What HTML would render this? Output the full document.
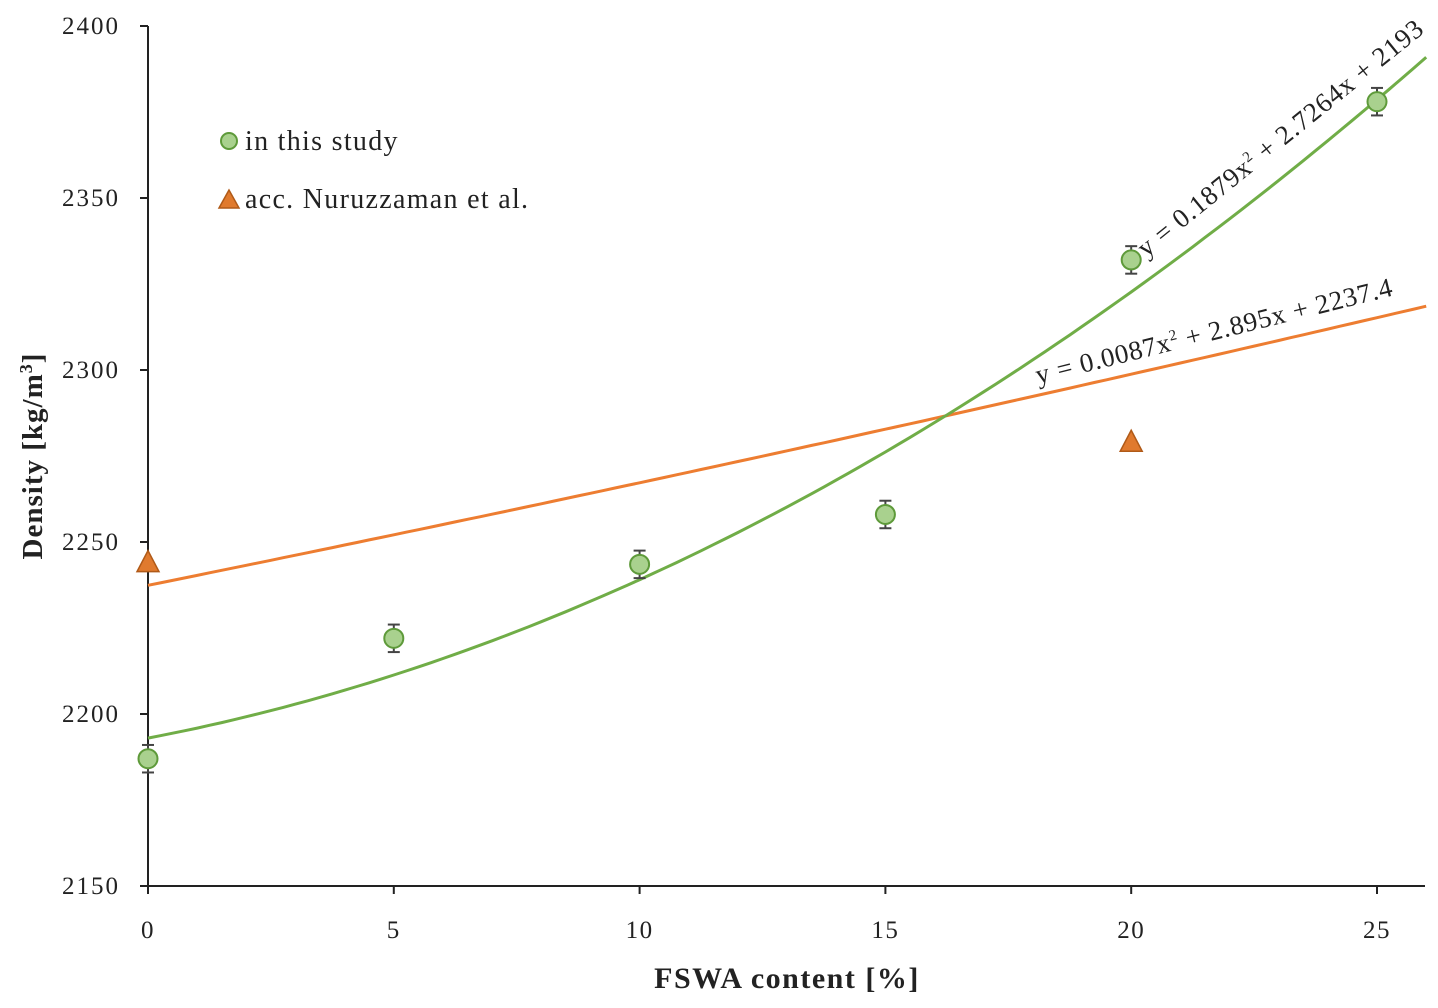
<!DOCTYPE html>
<html><head><meta charset="utf-8"><style>
body{margin:0;background:#fff}
svg text{font-family:"Liberation Serif",serif;fill:#222}
</style></head><body>
<svg width="1438" height="1003" id="chart">
</svg>
<script>
const xTicks=[0,5,10,15,20,25];
const yTicks=[2150,2200,2250,2300,2350,2400];
const studyX=[0,5,10,15,20,25];
const studyY=[2187,2222,2243.5,2258,2332,2378];
const studyErr=[4,4,4,4,4,4];
const nuruX=[0,20];
const nuruY=[2244,2279];
const greenCoef=[0.1879,2.7264,2193];
const orangeCoef=[0.0087,2.895,2237.4];
const NS="http://www.w3.org/2000/svg";
const svg=document.getElementById('chart');
const X=v=>148+v*(1377-148)/25;
const Y=v=>886-(v-2150)*(886-26)/250;
function el(t,a,p){const e=document.createElementNS(NS,t);for(const k in a)e.setAttribute(k,a[k]);(p||svg).appendChild(e);return e;}
let ax=el('line',{x1:148,y1:26,x2:148,y2:886,stroke:'#222','stroke-width':2});


ax=el('line',{x1:148,y1:886,x2:1425,y2:886,stroke:'#222','stroke-width':2});


yTicks.forEach(v=>{
 el('line',{x1:140,x2:148,y1:Y(v),y2:Y(v),stroke:'#222','stroke-width':2});
 const t=el('text',{x:120,y:Y(v)+8,'text-anchor':'end','font-size':25,'letter-spacing':2});t.textContent=v;
 
 
});
xTicks.forEach(v=>{
 el('line',{x1:X(v),x2:X(v),y1:886,y2:894,stroke:'#222','stroke-width':2});
 const t=el('text',{x:X(v),y:938,'text-anchor':'middle','font-size':25,'letter-spacing':1.5});t.textContent=v;
 
 
});
let t=el('text',{x:787,y:988,'text-anchor':'middle','font-size':30,'font-weight':'bold','letter-spacing':1.5});t.textContent='FSWA content [%]';


t=el('text',{transform:'translate(42,456) rotate(-90)','text-anchor':'middle','font-size':29,'font-weight':'bold','letter-spacing':1});
t.innerHTML='Density [kg/m<tspan font-size="18" dy="-10">3</tspan><tspan dy="10">]</tspan>';


function curve(c,col,name){let d='';for(let x=0;x<=26.001;x+=0.25){const y=c[0]*x*x+c[1]*x+c[2];d+=(d?'L':'M')+X(x).toFixed(1)+','+Y(y).toFixed(1);}
 const p=el('path',{d:d,fill:'none',stroke:col,'stroke-width':3});
 
 }
curve(orangeCoef,'#ed7d31','nuruzzaman-trendline');
curve(greenCoef,'#70ad47','study-trendline');
studyX.forEach((x,i)=>{
 const cx=X(x),cy=Y(studyY[i]),e=studyErr[i]*3.44;
 el('line',{x1:cx,x2:cx,y1:cy-e,y2:cy+e,stroke:'#444','stroke-width':2});
 el('line',{x1:cx-6,x2:cx+6,y1:cy-e,y2:cy-e,stroke:'#444','stroke-width':2});
 el('line',{x1:cx-6,x2:cx+6,y1:cy+e,y2:cy+e,stroke:'#444','stroke-width':2});
 const c=el('circle',{cx:cx,cy:cy,r:9.5,fill:'#a9d18e',stroke:'#5e9a3a','stroke-width':2});
 
 
});
nuruX.forEach((x,i)=>{
 const cx=X(x),cy=Y(nuruY[i]);
 const p=el('polygon',{points:`${cx},${cy-12} ${cx-11},${cy+9} ${cx+11},${cy+9}`,fill:'#e07a2e',stroke:'#b05a18','stroke-width':1.5});
 
 
});
t=el('text',{transform:'translate(1146,258) rotate(-39)','font-size':27,'letter-spacing':0.8});
t.innerHTML='y = 0.1879x<tspan font-size="15" dy="-10">2</tspan><tspan dy="10"> + 2.7264x + 2193</tspan>';


t=el('text',{transform:'translate(1038,384) rotate(-14)','font-size':27,'letter-spacing':0.8});
t.innerHTML='y = 0.0087x<tspan font-size="15" dy="-10">2</tspan><tspan dy="10"> + 2.895x + 2237.4</tspan>';


let g=el('g',{});


el('circle',{cx:229,cy:141,r:8,fill:'#a9d18e',stroke:'#5e9a3a','stroke-width':2},g);
t=el('text',{x:245,y:150,'font-size':28,'letter-spacing':1.3},g);t.textContent='in this study';
g=el('g',{});


el('polygon',{points:'229,190 219,208 239,208',fill:'#e07a2e',stroke:'#b05a18','stroke-width':1.5},g);
t=el('text',{x:245,y:208,'font-size':28,'letter-spacing':1.3},g);t.textContent='acc. Nuruzzaman et al.';
</script>
</body></html>
